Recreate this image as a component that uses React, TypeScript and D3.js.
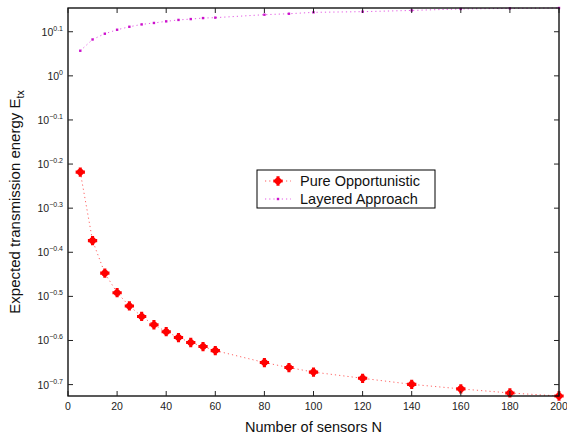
import { useEffect, useRef } from "react"
import * as d3 from "d3"

// Number of sensors N
const sensors = [5, 10, 15, 20, 25, 30, 35, 40, 45, 50, 55, 60, 80, 90, 100, 120, 140, 160, 180, 200]

// Expected transmission energy
const pureOpportunistic = [
  0.605, 0.423, 0.357, 0.3224, 0.3008, 0.2848, 0.2727, 0.263, 0.2551, 0.2486, 0.2434, 0.2383, 0.2239, 0.2181,
  0.213, 0.2062, 0.1998, 0.1951, 0.191, 0.188,
]
const layeredApproach = [
  1.14, 1.209, 1.246, 1.272, 1.292, 1.308, 1.318, 1.329, 1.339, 1.345, 1.352, 1.355, 1.376, 1.383, 1.393, 1.398,
  1.407, 1.418, 1.422, 1.425,
]

const xTicks = [0, 20, 40, 60, 80, 100, 120, 140, 160, 180, 200]
const yTickExponents = [0.1, 0, -0.1, -0.2, -0.3, -0.4, -0.5, -0.6, -0.7]
const seriesNames = ["Pure Opportunistic", "Layered Approach"]

const FONT = "'Liberation Sans', Arial, Helvetica, sans-serif"

export default function App() {
  const svgRef = useRef<SVGSVGElement>(null)

  useEffect(() => {
    if (!svgRef.current) return
    const svg = d3.select(svgRef.current)
    svg.selectAll("*").remove()

    const left = 68
    const right = 559
    const top = 8
    const bottom = 396

    const x = d3.scaleLinear().domain([0, 200]).range([left, right])
    const all = [...pureOpportunistic, ...layeredApproach]
    const y = d3
      .scaleLog()
      .domain(d3.extent(all) as [number, number])
      .range([bottom, top])

    const red = sensors.map((n, i) => ({ n, v: pureOpportunistic[i] }))
    const mag = sensors.map((n, i) => ({ n, v: layeredApproach[i] }))

    const line = d3
      .line<{ n: number; v: number }>()
      .x((d) => x(d.n))
      .y((d) => y(d.v))

    // series lines
    svg
      .append("path")
      .datum(red)
      .attr("fill", "none")
      .attr("stroke", "#ff3030")
      .attr("stroke-opacity", 0.75)
      .attr("stroke-width", 1)
      .attr("stroke-dasharray", "1.2,3")
      .attr("d", line)

    svg
      .append("path")
      .datum(mag)
      .attr("fill", "none")
      .attr("stroke", "#dd33dd")
      .attr("stroke-opacity", 0.8)
      .attr("stroke-width", 1)
      .attr("stroke-dasharray", "1.2,3")
      .attr("d", line)

    const cross = d3.symbol().type(d3.symbolCross).size(48)

    svg
      .selectAll(".red-mark")
      .data(red)
      .enter()
      .append("path")
      .attr("class", "red-mark")
      .attr("d", cross)
      .attr("transform", (d) => `translate(${x(d.n)},${y(d.v)})`)
      .attr("fill", "#ff0000")
    svg
      .selectAll(".red-dot")
      .data(red)
      .enter()
      .append("circle")
      .attr("cx", (d) => x(d.n))
      .attr("cy", (d) => y(d.v))
      .attr("r", 3.3)
      .attr("fill", "#ff0000")

    svg
      .selectAll(".mag-mark")
      .data(mag)
      .enter()
      .append("rect")
      .attr("x", (d) => x(d.n) - 1.2)
      .attr("y", (d) => y(d.v) - 1.2)
      .attr("width", 2.4)
      .attr("height", 2.4)
      .attr("fill", "#cc11cc")

    // axes box
    svg
      .append("rect")
      .attr("x", left)
      .attr("y", top)
      .attr("width", right - left)
      .attr("height", bottom - top)
      .attr("fill", "none")
      .attr("stroke", "#000")
      .attr("stroke-width", 1.3)

    const tickLen = 5
    xTicks.forEach((t) => {
      svg.append("line").attr("x1", x(t)).attr("x2", x(t)).attr("y1", bottom).attr("y2", bottom - tickLen).attr("stroke", "#222")
      svg.append("line").attr("x1", x(t)).attr("x2", x(t)).attr("y1", top).attr("y2", top + tickLen).attr("stroke", "#222")
      svg
        .append("text")
        .attr("x", x(t))
        .attr("y", 410)
        .attr("text-anchor", "middle")
        .attr("font-family", FONT)
        .attr("font-size", 10.5)
        .attr("fill", "#222")
        .text(t)
    })

    yTickExponents.forEach((e) => {
      const yy = y(Math.pow(10, e))
      svg.append("line").attr("x1", left).attr("x2", left + tickLen).attr("y1", yy).attr("y2", yy).attr("stroke", "#222")
      svg.append("line").attr("x1", right).attr("x2", right - tickLen).attr("y1", yy).attr("y2", yy).attr("stroke", "#222")
      const label = svg
        .append("text")
        .attr("x", 63)
        .attr("y", yy + 4)
        .attr("text-anchor", "end")
        .attr("font-family", FONT)
        .attr("fill", "#222")
      label.append("tspan").attr("font-size", 10.5).text("10")
      label
        .append("tspan")
        .attr("font-size", 7)
        .attr("dy", -5)
        .text(e === 0 ? "0" : e < 0 ? `\u2212${Math.abs(e)}` : `${e}`)
    })

    // axis labels
    svg
      .append("text")
      .attr("x", (left + right) / 2)
      .attr("y", 432)
      .attr("text-anchor", "middle")
      .attr("font-family", FONT)
      .attr("font-size", 14.5)
      .attr("fill", "#111")
      .text("Number of sensors N")

    const yl = svg
      .append("text")
      .attr("transform", `translate(20,${(top + bottom) / 2}) rotate(-90)`)
      .attr("text-anchor", "middle")
      .attr("font-family", FONT)
      .attr("font-size", 15)
      .attr("fill", "#111")
    yl.append("tspan").text("Expected transmission energy E")
    yl.append("tspan").attr("font-size", 10.5).attr("dy", 4).text("tx")

    // legend
    const lg = svg.append("g")
    lg.append("rect")
      .attr("x", 257)
      .attr("y", 170)
      .attr("width", 178)
      .attr("height", 38)
      .attr("fill", "#fff")
      .attr("stroke", "#000")
      .attr("stroke-width", 1)
    const rows = [181, 199]
    seriesNames.forEach((name, i) => {
      const ry = rows[i]
      lg.append("line")
        .attr("x1", 265)
        .attr("x2", 291)
        .attr("y1", ry)
        .attr("y2", ry)
        .attr("stroke", i === 0 ? "#ff3030" : "#dd33dd")
        .attr("stroke-opacity", 0.8)
        .attr("stroke-dasharray", "1.2,3")
      if (i === 0) {
        lg.append("path").attr("d", cross).attr("transform", `translate(278,${ry})`).attr("fill", "#ff0000")
        lg.append("circle").attr("cx", 278).attr("cy", ry).attr("r", 3.3).attr("fill", "#ff0000")
      } else {
        lg.append("rect").attr("x", 276.8).attr("y", ry - 1.2).attr("width", 2.4).attr("height", 2.4).attr("fill", "#cc11cc")
      }
      lg.append("text")
        .attr("x", 300)
        .attr("y", ry + 5)
        .attr("font-family", FONT)
        .attr("font-size", 14.5)
        .attr("fill", "#111")
        .text(name)
    })
  }, [])

  return (
    <svg
      ref={svgRef}
      width={567}
      height={437}
      style={{ position: "absolute", left: 0, top: 0, background: "#fff" }}
    ></svg>
  )
}
